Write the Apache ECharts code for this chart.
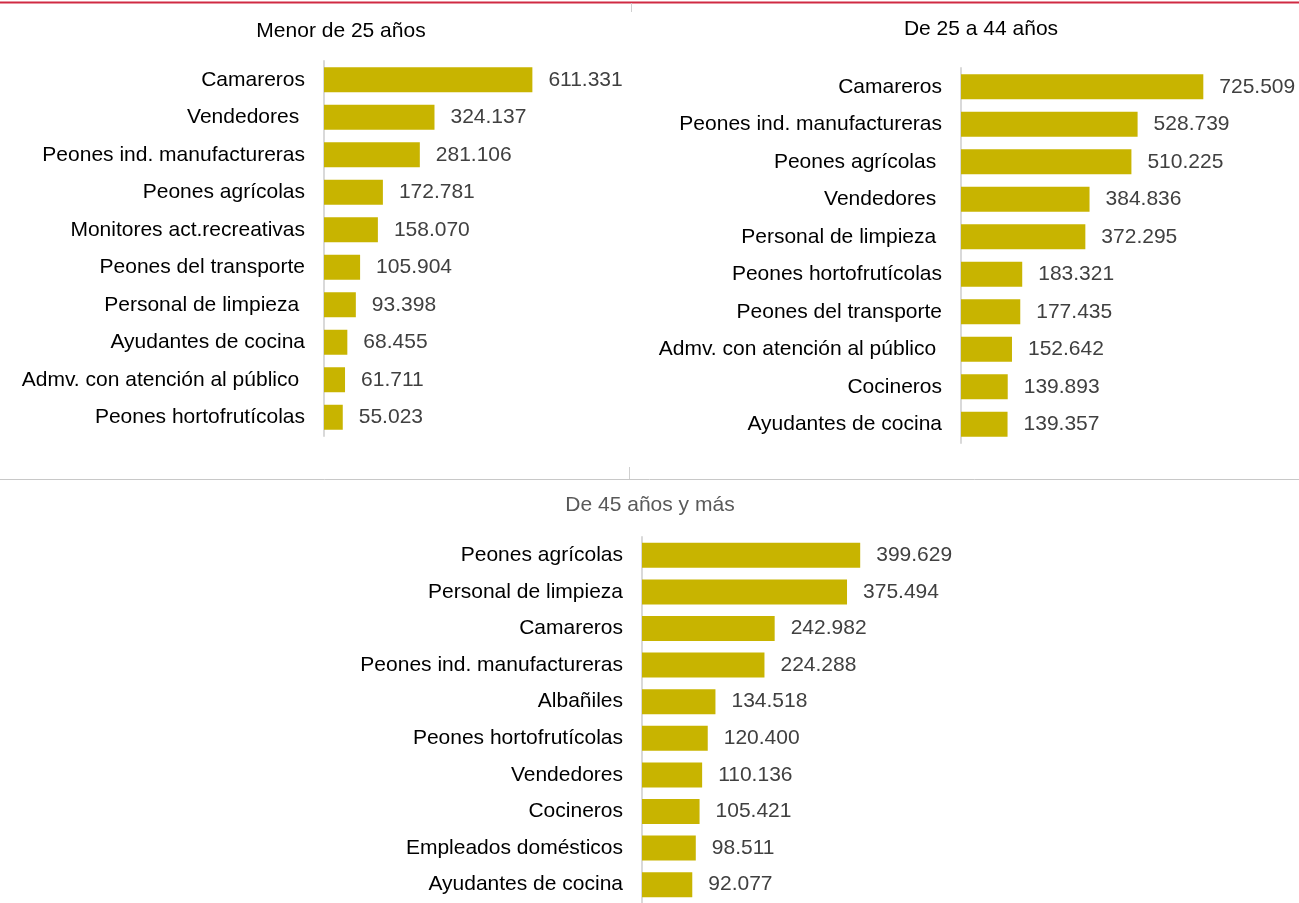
<!DOCTYPE html>
<html>
<head>
<meta charset="utf-8">
<title>Ocupaciones por edad</title>
<script src="https://cdn.jsdelivr.net/npm/echarts@6/dist/echarts.min.js"></script>
<style>
    html, body { margin: 0; padding: 0; background: #fff; }
    #chart { width: 1299px; height: 903px; }
</style>
</head>
<body>
<div id="chart"></div>
<script>
// data per age group (top ten occupations)
let jovenesCat = ["Camareros", "Vendedores ", "Peones ind. manufactureras", "Peones agrícolas", "Monitores act.recreativas",
    "Peones del transporte", "Personal de limpieza ", "Ayudantes de cocina", "Admv. con atención al público ", "Peones hortofrutícolas"];
let jovenesVal = [611331, 324137, 281106, 172781, 158070, 105904, 93398, 68455, 61711, 55023];

let mediosCat = ["Camareros", "Peones ind. manufactureras", "Peones agrícolas ", "Vendedores ", "Personal de limpieza ",
    "Peones hortofrutícolas", "Peones del transporte", "Admv. con atención al público ", "Cocineros", "Ayudantes de cocina"];
let mediosVal = [725509, 528739, 510225, 384836, 372295, 183321, 177435, 152642, 139893, 139357];

let mayoresCat = ["Peones agrícolas", "Personal de limpieza", "Camareros", "Peones ind. manufactureras", "Albañiles",
    "Peones hortofrutícolas", "Vendedores", "Cocineros", "Empleados domésticos", "Ayudantes de cocina"];
let mayoresVal = [399629, 375494, 242982, 224288, 134518, 120400, 110136, 105421, 98511, 92077];

let titulos = ["Menor de 25 años", "De 25 a 44 años", "De 45 años y más"];

let font = "Arial, 'Liberation Sans', sans-serif";
let fs = 21;

function puntos(v) {
    return v.toString().replace(/\B(?=(\d{3})+(?!\d))/g, ".");
}

function makeY(idx, cats) {
    return {
        type: 'category',
        gridIndex: idx,
        data: cats,
        inverse: true,
        axisTick: { show: false },
        axisLine: { show: true, lineStyle: { color: '#d9d9d9', width: 2 } },
        axisLabel: { color: '#000', fontSize: fs, fontFamily: font, margin: 19 },
        splitLine: { show: false }
    };
}

function makeX(idx, max) {
    return { type: 'value', gridIndex: idx, min: 0, max: max, show: false };
}

function makeBar(idx, vals) {
    return {
        type: 'bar',
        xAxisIndex: idx,
        yAxisIndex: idx,
        data: vals,
        barWidth: 25,
        itemStyle: { color: '#c8b400' },
        label: {
            show: true,
            position: 'right',
            distance: 16,
            color: '#404040',
            fontSize: fs,
            fontFamily: font,
            formatter: function (p) { return puntos(p.value); }
        },
        silent: true
    };
}

var dom = document.getElementById('chart');
var myChart = echarts.init(dom, null, { renderer: 'canvas' });

var option = {
    backgroundColor: '#fff',
    animation: false,
    grid: [
        { left: 324, top: 61, width: 238.6, height: 375 },
        { left: 961, top: 68, width: 267.2, height: 375 },
        { left: 642, top: 537, width: 273, height: 374 }
    ],
    xAxis: [makeX(0, 700000), makeX(1, 800000), makeX(2, 500000)],
    yAxis: [makeY(0, jovenesCat), makeY(1, mediosCat), makeY(2, mayoresCat)],
    series: [makeBar(0, jovenesVal), makeBar(1, mediosVal), makeBar(2, mayoresVal)],
    graphic: [
        // top red rule and panel separators
        { type: 'rect', shape: { x: 0, y: 1.5, width: 1299, height: 2 }, style: { fill: '#d02a43' } },
        { type: 'line', shape: { x1: 631.5, y1: 3, x2: 631.5, y2: 12 }, style: { stroke: '#d0d0d0', lineWidth: 1 } },
        { type: 'line', shape: { x1: 0, y1: 479.5, x2: 1299, y2: 479.5 }, style: { stroke: '#c8c8c8', lineWidth: 1 } },
        { type: 'line', shape: { x1: 629.5, y1: 467, x2: 629.5, y2: 479 }, style: { stroke: '#d0d0d0', lineWidth: 1 } },
        // titles
        { type: 'text', x: 341, y: 31, style: { text: titulos[0], fill: '#000', font: fs + 'px ' + font, textAlign: 'center', textVerticalAlign: 'middle' } },
        { type: 'text', x: 981, y: 29, style: { text: titulos[1], fill: '#000', font: fs + 'px ' + font, textAlign: 'center', textVerticalAlign: 'middle' } },
        { type: 'text', x: 650, y: 505, style: { text: titulos[2], fill: '#595959', font: fs + 'px ' + font, textAlign: 'center', textVerticalAlign: 'middle' } }
    ]
};

myChart.setOption(option);
window.addEventListener('resize', myChart.resize);
</script>
</body>
</html>
